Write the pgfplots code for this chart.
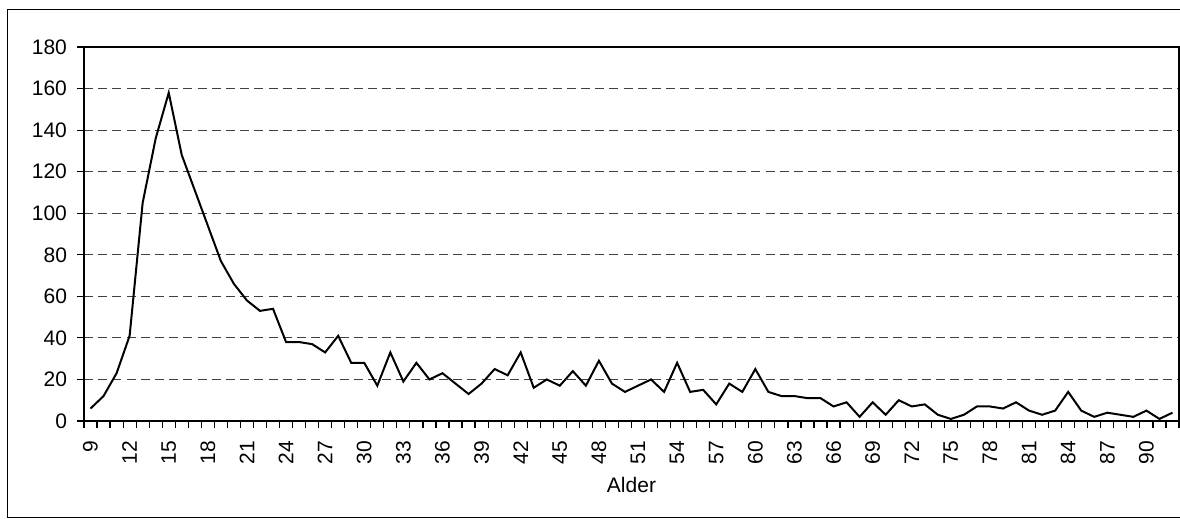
\documentclass[border=0pt]{standalone}
\usepackage{fontspec}
\setmainfont{Liberation Sans}
\usepackage{pgfplots}
\pgfplotsset{compat=1.18}
\begin{document}
\begin{tikzpicture}[x=0.5pt,y=0.5pt]
\path[use as bounding box] (0,0) rectangle (1180,520);
\draw[line width=0.5pt] (1181,510) -- (7,510) -- (7,2) -- (1181,2);
\begin{axis}[
  at={(42pt,49.5pt)}, anchor=south west,
  scale only axis, width=547.5pt, height=187pt,
  xmin=8.5, xmax=92.5, ymin=0, ymax=180,
  axis line style={line width=0.9pt},
  tick align=outside, xtick pos=bottom, ytick pos=left,
  major tick length=3.5pt,
  tick style={black, line width=0.6pt},
  xtick={8.5,9.5,...,92.5},
  xticklabels={,,},
  extra x ticks={9,12,15,18,21,24,27,30,33,36,39,42,45,48,51,54,57,60,63,66,69,72,75,78,81,84,87,90},
  extra x tick labels={9,12,15,18,21,24,27,30,33,36,39,42,45,48,51,54,57,60,63,66,69,72,75,78,81,84,87,90},
  extra x tick style={major tick length=0pt},
  ytick={0,20,...,180},
  ymajorgrids,
  grid style={black!75, line width=0.6pt, dash pattern=on 4.5pt off 2.6pt},
  /pgf/number format/assume math mode=true,
  ticklabel style={font=\fontsize{10.5}{12}\selectfont},
  xticklabel style={rotate=90, anchor=east},
  xticklabel shift=6.5pt,
  yticklabel style={xshift=-1.5pt},
  xlabel={Alder},
  xlabel style={font=\fontsize{10.5}{12}\selectfont, at={(axis description cs:0.5,0)}, anchor=center, yshift=-32pt},
]
\addplot[black, line width=1pt, mark=none] coordinates {
(9,6) (10,12) (11,23) (12,41) (13,105) (14,136) (15,158) (16,128) (17,111) (18,94)
(19,77) (20,66) (21,58) (22,53) (23,54) (24,38) (25,38) (26,37) (27,33) (28,41)
(29,28) (30,28) (31,17) (32,33) (33,19) (34,28) (35,20) (36,23) (37,18) (38,13)
(39,18) (40,25) (41,22) (42,33) (43,16) (44,20) (45,17) (46,24) (47,17) (48,29)
(49,18) (50,14) (51,17) (52,20) (53,14) (54,28) (55,14) (56,15) (57,8) (58,18)
(59,14) (60,25) (61,14) (62,12) (63,12) (64,11) (65,11) (66,7) (67,9) (68,2)
(69,9) (70,3) (71,10) (72,7) (73,8) (74,3) (75,1) (76,3) (77,7) (78,7)
(79,6) (80,9) (81,5) (82,3) (83,5) (84,14) (85,5) (86,2) (87,4) (88,3)
(89,2) (90,5) (91,1) (92,4)
};
\end{axis}
\end{tikzpicture}
\end{document}
